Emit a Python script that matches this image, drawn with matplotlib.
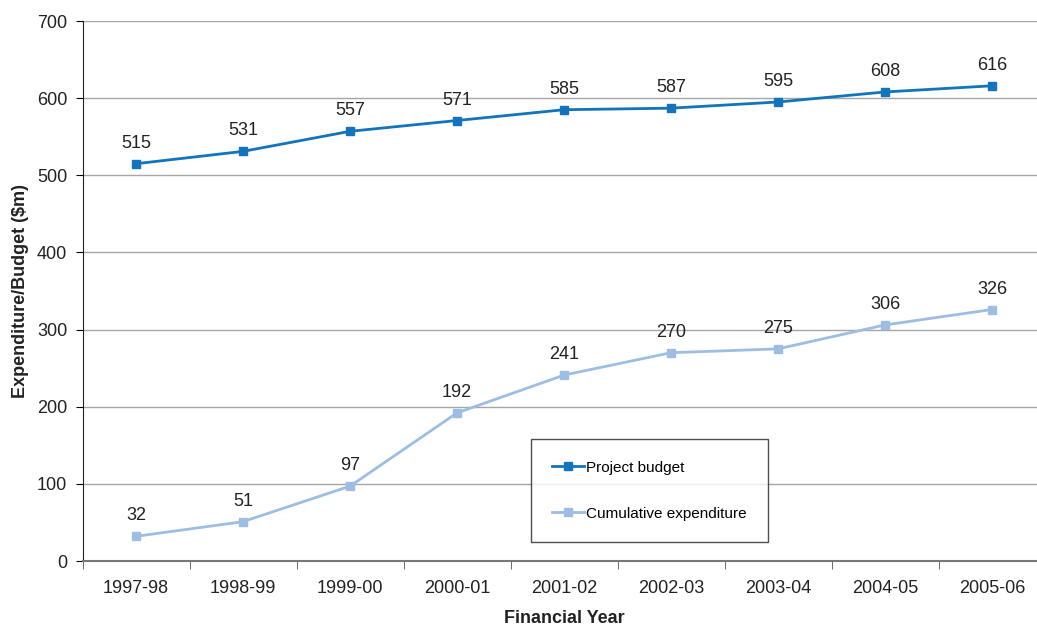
import matplotlib
matplotlib.use('Agg')
import matplotlib.pyplot as plt

# Financial years and values ($m)
years = ['1997-98', '1998-99', '1999-00', '2000-01', '2001-02',
         '2002-03', '2003-04', '2004-05', '2005-06']
project_budget = [515, 531, 557, 571, 585, 587, 595, 608, 616]
cumulative_expenditure = [32, 51, 97, 192, 241, 270, 275, 306, 326]

plt.rcParams['font.family'] = ['Liberation Sans', 'DejaVu Sans']

fig = plt.figure(figsize=(10.37, 6.26), dpi=100)
# axes run a little past the right edge of the figure
ax = fig.add_axes([82.5 / 1037, 65 / 626, 963 / 1037, 540 / 626])

x = list(range(len(years)))
ax.plot(x, project_budget, color='#1274bd', lw=2, marker='s', ms=6,
        label='Project budget')
ax.plot(x, cumulative_expenditure, color='#9dbde3', lw=2, marker='s', ms=6,
        label='Cumulative expenditure')

for series in (project_budget, cumulative_expenditure):
    for xi, v in zip(x, series):
        ax.annotate(str(v), (xi, v), xytext=(0, 11.5),
                    textcoords='offset points', ha='center', va='baseline',
                    fontsize=13, color='#222222')

ax.set_xlim(-0.5, len(years) - 0.5)
ax.set_ylim(0, 700)
ax.set_yticks(range(0, 701, 100))
ax.set_xticks(x)
ax.set_xticklabels(years)
ax.set_xticks([i - 0.5 for i in range(len(years) + 1)], minor=True)
ax.tick_params(axis='x', which='major', length=0, pad=14, labelsize=13,
               labelcolor='#222222')
ax.tick_params(axis='x', which='minor', length=6, color='#555555')
ax.tick_params(axis='y', length=5, labelsize=13, pad=6, labelcolor='#222222')

ax.yaxis.grid(True, color='#a6a6a6', lw=1)
ax.set_axisbelow(True)
for side in ('top', 'right'):
    ax.spines[side].set_visible(False)
ax.spines['left'].set_color('#222222')
ax.spines['bottom'].set_color('#777777')
ax.spines['bottom'].set_linewidth(1.5)

ax.set_xlabel('Financial Year', fontsize=13, fontweight='bold', labelpad=9,
              color='#222222')
ax.set_ylabel('Expenditure/Budget ($m)', fontsize=13, fontweight='bold',
              labelpad=6, color='#222222')

leg = ax.legend(loc='lower left',
                bbox_to_anchor=((531 - 82.5) / 963, 19 / 540),
                fontsize=11, frameon=True, fancybox=False,
                edgecolor='#222222', handlelength=2.1, handletextpad=0.1,
                labelspacing=2.1, borderpad=1.4, borderaxespad=0)
leg.get_frame().set_linewidth(1)

fig.savefig('out.png', dpi=100)
